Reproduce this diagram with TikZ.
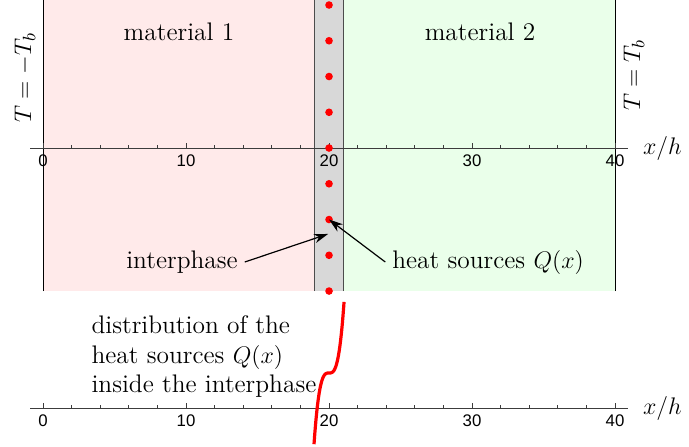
\documentclass[tikz,border=0pt]{standalone}
\usepackage{amsmath}
\usepackage{fontspec}
\newfontfamily\ticksf{Liberation Sans}
\usetikzlibrary{arrows.meta}
\definecolor{matone}{RGB}{255,234,234}
\definecolor{mattwo}{RGB}{234,255,234}
\definecolor{interphasegray}{RGB}{216,216,216}
\definecolor{axisgray}{RGB}{60,60,60}

\begin{document}
\begin{tikzpicture}[x=7.15pt,y=7.15pt,
    font=\fontsize{12.7}{14.75}\selectfont,
    ticklbl/.style={below,text=black,font=\ticksf\fontsize{8.4}{10}\selectfont},
    pointer/.style={-{Stealth[length=7pt,width=4.6pt]},semithick}]
        \useasboundingbox (-3.007,10.35) rectangle (45.17,-20.84);
        \fill[matone] (0,-10) rectangle (19,10.35);
        \fill[mattwo] (21,-10) rectangle (40,10.35);
        \fill[interphasegray] (19,-10) rectangle (21,10.35);
        \draw (0,-10) -- (0,10.35) (40,-10) -- (40,10.35);
        \draw[black!70] (19,-10) -- (19,10.35) (21,-10) -- (21,10.35);
        \foreach \ya/\nm in {0/top,-18.18/bot} {
          \draw[axisgray] (-0.9,\ya) -- (40.9,\ya) node[right=4pt,text=black] (xh\nm) {$x/h$};
          \foreach \i in {0,2,...,40}
            \draw[axisgray] (\i,\ya) -- ++(0,0.21);
          \foreach \i in {0,10,...,40}
            \draw[axisgray] (\i,\ya) -- ++(0,0.35) node[ticklbl] at (\i,\ya) (t\nm\i) {\i};
        }
        \foreach \k in {-4,...,4}
          \fill[red] (20,2.5*\k) circle (1.9pt);
        \node (mat1) at (9.51,8.11) {material 1};
        \node (mat2) at (30.56,8.11) {material 2};
        \node[rotate=90] (bcleft) at (-1.26,4.9) {$T=-T_b$};
        \node[rotate=90] (bcright) at (41.33,5.1) {$T=T_b$};
        \coordinate (tipinter) at (19.93,-6.01);
        \coordinate (tipheat) at (20,-5);
        \node (inter) at (9.72,-7.97) {interphase};
        \node (heat) at (31.12,-7.97) {heat sources $Q(x)$};
        \draw[pointer] (inter.east) -- (tipinter);
        \draw[pointer] (heat.west) -- (tipheat);
        \node[align=left,anchor=west] (distr) at (2.9,-14.6)
          {distribution of the\\heat sources $Q(x)$\\inside the interphase};
        \draw[red,line width=1.6pt] plot[domain=-1.05:1.05,samples=60,smooth]
          ({20+\x},{-15.73+4.3*\x*\x*\x});
      \end{tikzpicture}
\end{document}
